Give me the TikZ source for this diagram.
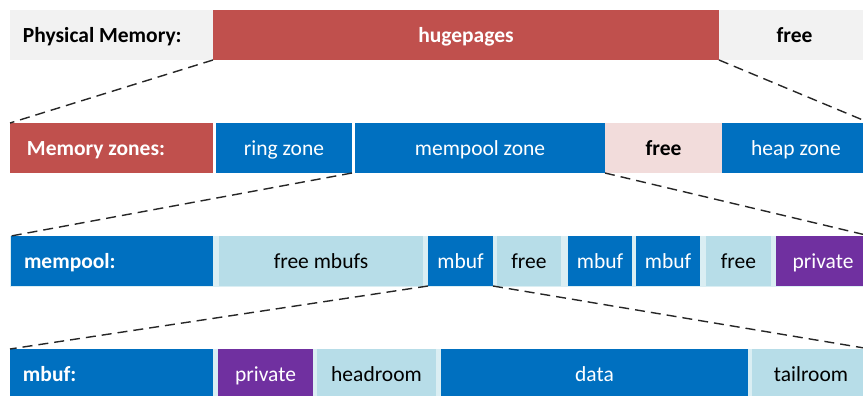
\documentclass[tikz,border=0pt]{standalone}
\usepackage{fontspec}
\setmainfont{Carlito}
\usetikzlibrary{positioning}
\definecolor{memred}{HTML}{C0504D}
\definecolor{memblue}{HTML}{0070C0}
\definecolor{memlight}{HTML}{B7DDE8}
\definecolor{memgap}{HTML}{DAEEF3}
\definecolor{mempurple}{HTML}{7030A0}
\definecolor{mempink}{HTML}{F2DCDB}
\definecolor{memgray}{HTML}{F2F2F2}
\tikzset{
  seg/.style={rectangle, inner sep=0pt, outer sep=0pt, minimum height=50pt,
    text height=17pt, text depth=1.6pt,
    anchor=north west, font=\fontsize{21.5}{25}\selectfont},
  segb/.style={seg, font=\fontsize{21.5}{25}\selectfont\bfseries},
  rowlbl/.style={segb, text=white, align=flush left, minimum width=203pt,
    inner xsep=13pt, text width=177pt},
  zoomln/.style={dash pattern=on 10pt off 6pt, line width=1.4pt, draw=black!85},
}

\begin{document}
\begin{tikzpicture}[x=1pt, y=-1pt]
  \useasboundingbox (0,0) rectangle (863,396);
  % physical memory
  \node[rowlbl, fill=memgray, text=black] (physlbl) at (10,10) {Physical Memory:};
  \node[segb, fill=memred, text=white, minimum width=506pt, right=0pt of physlbl] (huge) {hugepages};
  \node[segb, fill=memgray, minimum width=151pt, right=0pt of huge] (physfree) {free};
  % memory zones
  \node[rowlbl, fill=memred, inner xsep=17pt, text width=169pt] (zonelbl) at (10,123) {Memory zones:};
  \node[seg, fill=memblue, text=white, minimum width=136pt, right=3pt of zonelbl] (ring) {ring zone};
  \node[seg, fill=memblue, text=white, minimum width=250pt, right=3pt of ring] (mpzone) {mempool zone};
  \node[segb, fill=mempink, minimum width=117pt, right=0pt of mpzone] (zfree) {free};
  \node[seg, fill=memblue, text=white, minimum width=148pt, right=0pt of zfree] (heap) {heap zone};
  % mempool
  \node[seg, fill=memgap, minimum width=860pt, minimum height=51pt] (poolbg) at (10,236) {};
  \node[rowlbl, fill=memblue, minimum width=202pt, text width=176pt] (poollbl) at (11,236) {mempool:};
  \node[seg, fill=memlight, minimum width=204pt, right=6pt of poollbl] (fmbufs) {free mbufs};
  \node[seg, fill=memblue, text=white, minimum width=65pt, right=5pt of fmbufs] (mbufa) {mbuf};
  \node[seg, fill=memlight, minimum width=64pt, right=4pt of mbufa] (pfreea) {free};
  \node[seg, fill=memblue, text=white, minimum width=64pt, right=7pt of pfreea] (mbufb) {mbuf};
  \node[seg, fill=memblue, text=white, minimum width=64pt, right=4pt of mbufb] (mbufc) {mbuf};
  \node[seg, fill=memlight, minimum width=65pt, right=6pt of mbufc] (pfreeb) {free};
  \node[seg, fill=mempurple, text=white, minimum width=94pt, right=5pt of pfreeb] (ppriv) {private};
  % mbuf
  \node[seg, fill=memgap, minimum width=860pt] (bufbg) at (10,349) {};
  \node[rowlbl, fill=memblue] (buflbl) at (10,349) {mbuf:};
  \node[seg, fill=mempurple, text=white, minimum width=95pt, right=5pt of buflbl] (bpriv) {private};
  \node[seg, fill=memlight, minimum width=119pt, right=4pt of bpriv] (head) {headroom};
  \node[seg, fill=memblue, text=white, minimum width=307pt, right=5pt of head] (data) {data};
  \node[seg, fill=memlight, minimum width=118pt, right=4pt of data] (tail) {tailroom};
  % zoom lines
  \draw[zoomln] (huge.south west) -- (zonelbl.north west);
  \draw[zoomln] (huge.south east) -- (heap.north east);
  \draw[zoomln] (ring.south east) -- (poollbl.north west);
  \draw[zoomln] (mpzone.south east) -- (ppriv.north east);
  \draw[zoomln] (mbufa.south west) -- (buflbl.north west);
  \draw[zoomln] (mbufa.south east) -- (tail.north east);
\end{tikzpicture}
\end{document}
